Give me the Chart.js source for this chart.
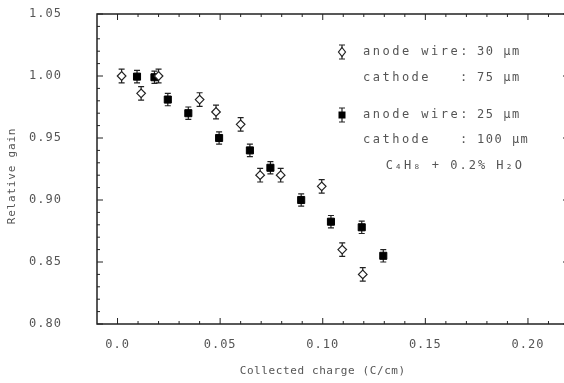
<!DOCTYPE html>
<html>
<head>
<meta charset="utf-8">
<script src="https://cdn.jsdelivr.net/npm/chart.js@4/dist/chart.umd.min.js"></script>
<style>
  html, body { margin: 0; padding: 0; background: #fff; overflow: hidden; }
  #wrap { width: 564px; height: 383px; overflow: hidden; }
</style>
</head>
<body>
<div id="wrap"><canvas id="chart" width="582" height="383"></canvas></div>
<script>
'use strict';

// anode wire 30 um / cathode 75 um (open diamonds)
const chargeOpen = [0.002, 0.0115, 0.02, 0.04, 0.048, 0.06, 0.0695, 0.0795, 0.0995, 0.1095, 0.1195];
const gainOpen   = [1.000, 0.986, 1.000, 0.981, 0.971, 0.961, 0.920, 0.920, 0.911, 0.860, 0.840];
const errOpen    = [0.0055, 0.0055, 0.0055, 0.0055, 0.0055, 0.0055, 0.0055, 0.0055, 0.0055, 0.0055, 0.0055];

// anode wire 25 um / cathode 100 um (filled squares)
const chargeFilled = [0.0095, 0.018, 0.0245, 0.0345, 0.0495, 0.0645, 0.0745, 0.0895, 0.104, 0.119, 0.1295];
const gainFilled   = [0.9995, 0.999, 0.981, 0.970, 0.950, 0.940, 0.926, 0.900, 0.8825, 0.878, 0.855];
const errFilled    = [0.005, 0.005, 0.005, 0.005, 0.005, 0.005, 0.005, 0.005, 0.005, 0.005, 0.005];

const xTicks = [0, 0.05, 0.10, 0.15, 0.20];
const xTickLabels = ['0.0', '0.05', '0.10', '0.15', '0.20'];
const yTicks = [0.80, 0.85, 0.90, 0.95, 1.00, 1.05];
const yTickLabels = ['0.80', '0.85', '0.90', '0.95', '1.00', '1.05'];

const xTitle = 'Collected charge (C/cm)';
const yTitle = 'Relative gain';

// legend rows: marker, label, value
const legendRows = [
  ['open',   'anode wire:', '30 \u00b5m'],
  [null,     'cathode',     '75 \u00b5m'],
  ['filled', 'anode wire:', '25 \u00b5m'],
  [null,     'cathode',     '100 \u00b5m']
];
const gasText = 'C\u2084H\u2088 + 0.2% H\u2082O';

const ink = '#222';
const textInk = '#555';
const mono = '"DejaVu Sans Mono", "Liberation Mono", monospace';

function toPoints(xs, ys) {
  let pts = [];
  for (let i = 0; i < xs.length; i++) {
    pts.push({x: xs[i], y: ys[i]});
  }
  return pts;
}

// letter spacing for the plotter-style text
const spacing = {
  id: 'spacing',
  beforeDraw(chart) {
    chart.ctx.letterSpacing = '1px';
  }
};

function drawErrorBar(ctx, x, top, bot) {
  ctx.beginPath();
  ctx.moveTo(x, top);
  ctx.lineTo(x, bot);
  ctx.moveTo(x - 3, top);
  ctx.lineTo(x + 3, top);
  ctx.moveTo(x - 3, bot);
  ctx.lineTo(x + 3, bot);
  ctx.stroke();
}

// error bars under the markers
const errorBars = {
  id: 'errorBars',
  beforeDatasetsDraw(chart) {
    let ctx = chart.ctx;
    let y = chart.scales.y;
    ctx.save();
    ctx.strokeStyle = ink;
    ctx.lineWidth = 1.2;
    chart.data.datasets.forEach((ds, di) => {
      let meta = chart.getDatasetMeta(di);
      meta.data.forEach((pt, i) => {
        let v = ds.data[i].y;
        drawErrorBar(ctx, pt.x, y.getPixelForValue(v + ds.errors[i]), y.getPixelForValue(v - ds.errors[i]));
      });
    });
    ctx.restore();
  }
};

// frame, inward ticks on all sides, axis titles, legend text
const frame = {
  id: 'frame',
  afterDraw(chart) {
    let ctx = chart.ctx;
    let a = chart.chartArea;
    let xs = chart.scales.x;
    let ys = chart.scales.y;
    ctx.save();
    ctx.strokeStyle = ink;
    ctx.lineWidth = 1.5;
    ctx.strokeRect(a.left, a.top, a.right - a.left, a.bottom - a.top);

    ctx.lineWidth = 1;
    ctx.beginPath();
    for (let k = 0; k <= 22; k++) {
      let px = xs.getPixelForValue(k / 100);
      let len = (k % 5 === 0) ? 6 : 3;
      ctx.moveTo(px, a.bottom);
      ctx.lineTo(px, a.bottom - len);
      ctx.moveTo(px, a.top);
      ctx.lineTo(px, a.top + len);
    }
    for (let k = 80; k <= 105; k++) {
      let py = ys.getPixelForValue(k / 100);
      let len = (k % 5 === 0) ? 6 : 3;
      ctx.moveTo(a.left, py);
      ctx.lineTo(a.left + len, py);
      ctx.moveTo(a.right, py);
      ctx.lineTo(a.right - len, py);
    }
    ctx.stroke();

    // axis titles
    ctx.fillStyle = textInk;
    ctx.textBaseline = 'middle';
    ctx.textAlign = 'center';
    ctx.font = '11px ' + mono;
    ctx.letterSpacing = '0.6px';
    ctx.fillText(xTitle, xs.getPixelForValue(0.1), 371);
    ctx.save();
    ctx.translate(12, 176);
    ctx.rotate(-Math.PI / 2);
    ctx.letterSpacing = '0.8px';
    ctx.fillText(yTitle, 0, 0);
    ctx.restore();

    // legend
    let rows = [52, 78, 115, 140];
    ctx.textAlign = 'left';
    ctx.font = '12px ' + mono;
    legendRows.forEach((row, i) => {
      let ty = rows[i];
      ctx.letterSpacing = '2.5px';
      ctx.fillText(row[1], 363, ty);
      if (row[0] === null) {
        ctx.fillText(':', 460, ty);
      }
      ctx.letterSpacing = '1.5px';
      ctx.fillText(row[2], 477, ty);
      if (row[0]) {
        let mx = 342;
        ctx.strokeStyle = ink;
        ctx.lineWidth = 1.2;
        drawErrorBar(ctx, mx, ty - 7, ty + 7);
        if (row[0] === 'open') {
          ctx.fillStyle = '#fff';
          ctx.beginPath();
          ctx.moveTo(mx, ty - 4.5);
          ctx.lineTo(mx + 3.5, ty);
          ctx.lineTo(mx, ty + 4.5);
          ctx.lineTo(mx - 3.5, ty);
          ctx.closePath();
          ctx.fill();
          ctx.stroke();
        } else {
          ctx.fillStyle = '#000';
          ctx.fillRect(mx - 3.5, ty - 3.5, 7, 7);
        }
        ctx.fillStyle = textInk;
      }
    });
    ctx.letterSpacing = '2px';
    ctx.textAlign = 'right';
    ctx.fillText(gasText, 524, 166);
    ctx.restore();
  }
};

new Chart(document.getElementById('chart'), {
  type: 'scatter',
  data: {
    datasets: [{
      label: 'anode wire: 30 um',
      data: toPoints(chargeOpen, gainOpen),
      errors: errOpen,
      pointStyle: 'rectRot',
      pointRadius: 4.3,
      backgroundColor: '#fff',
      borderColor: ink,
      borderWidth: 1.2
    },
    {
      label: 'anode wire: 25 um',
      data: toPoints(chargeFilled, gainFilled),
      errors: errFilled,
      pointStyle: 'rect',
      pointRadius: 5,
      backgroundColor: '#000',
      borderColor: '#000',
      borderWidth: 1
    }]
  },
  options: {
    responsive: false,
    animation: false,
    events: [],
    layout: { padding: { top: 14, right: 13, left: 0, bottom: 0 } },
    plugins: {
      legend: { display: false },
      tooltip: { enabled: false }
    },
    scales: {
      x: {
        type: 'linear',
        min: -0.01,
        max: 0.22,
        afterBuildTicks: (s) => { s.ticks = xTicks.map(v => ({value: v})); },
        afterFit: (s) => { s.height = 59; s.paddingLeft = 0; s.paddingRight = 0; },
        grid: { display: false, drawTicks: false },
        border: { display: false },
        ticks: {
          padding: 14,
          color: textInk,
          font: { family: mono, size: 12 },
          callback: (v, i) => xTickLabels[i]
        }
      },
      y: {
        type: 'linear',
        min: 0.80,
        max: 1.05,
        afterBuildTicks: (s) => { s.ticks = yTicks.map(v => ({value: v})); },
        afterFit: (s) => { s.width = 97; s.paddingTop = 0; s.paddingBottom = 0; },
        grid: { display: false, drawTicks: false },
        border: { display: false },
        ticks: {
          padding: 35,
          color: textInk,
          font: { family: mono, size: 12 },
          callback: (v, i) => yTickLabels[i]
        }
      }
    }
  },
  plugins: [spacing, errorBars, frame]
});
</script>
</body>
</html>
